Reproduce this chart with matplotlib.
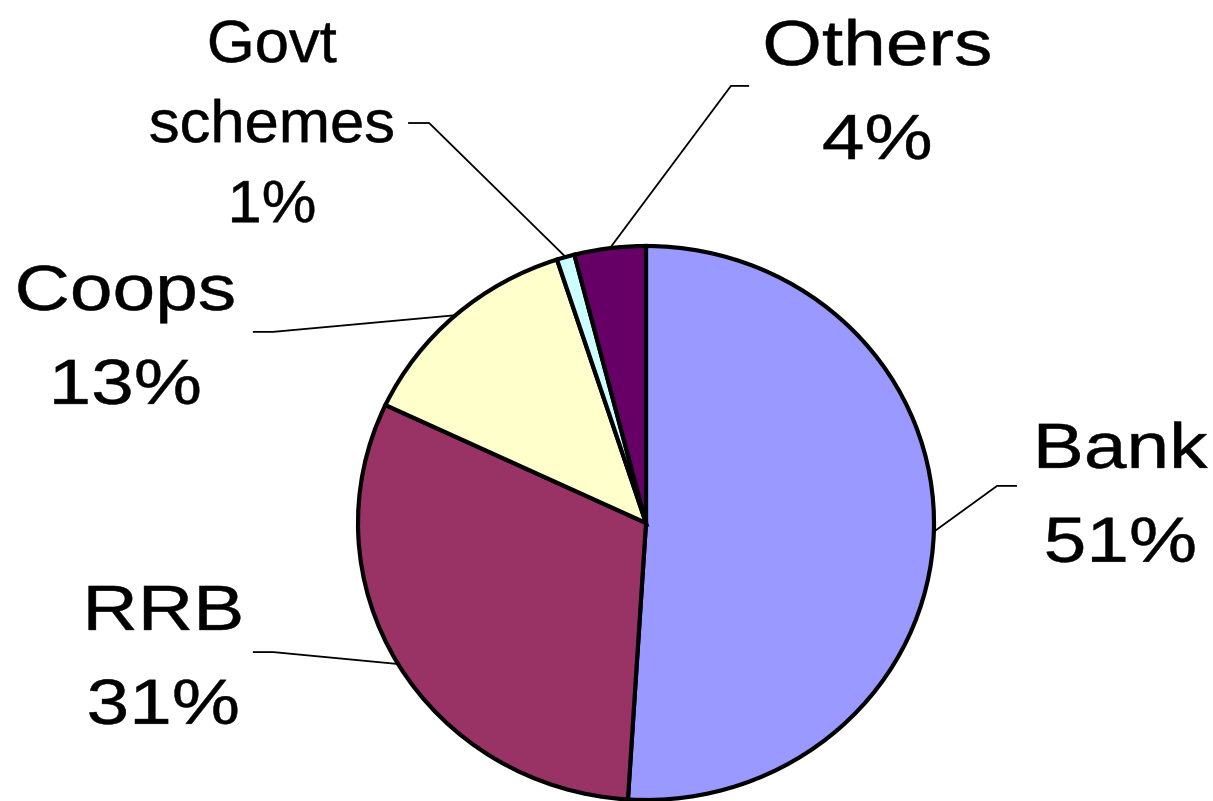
import matplotlib.pyplot as plt
from matplotlib.patheffects import AbstractPathEffect
from matplotlib.path import Path
import numpy as np

labels = ["Bank", "RRB", "Coops", "Govt\nschemes", "Others"]
shares = [51, 31, 13, 1, 4]
colors = ["#9999FF", "#993366", "#FFFFCC", "#CCFFFF", "#660066"]

# label layout in pie units: leader elbow, stub end, text centre x, first baseline
elbows = [(1.219, 0.134), (-1.295, -0.466), (-1.295, 0.690), (-0.753, 1.444), (0.295, 1.578)]
stubs = [(1.288, 0.134), (-1.365, -0.466), (-1.365, 0.690), (-0.826, 1.444), (0.358, 1.578)]
text_x = [1.646, -1.677, -1.809, -1.299, 0.802]
first_base = [0.199, -0.386, 0.769, 1.664, 1.653]


class HStretch(AbstractPathEffect):
    """widen glyphs about their own centre (the labels look horizontally stretched)"""
    def __init__(self, sx):
        super().__init__()
        self.sx = sx

    def draw_path(self, renderer, gc, tpath, affine, rgbFace=None):
        v = tpath.vertices.copy()
        if len(v):
            cx = (v[:, 0].min() + v[:, 0].max()) / 2
            v[:, 0] = cx + (v[:, 0] - cx) * self.sx
        gc.set_linewidth(0.35)
        gc.set_foreground(rgbFace)
        renderer.draw_path(gc, Path(v, tpath.codes), affine, rgbFace)


plt.rcParams['font.family'] = 'Liberation Sans'

fig = plt.figure(figsize=(12.13, 8.01), dpi=100)
ax = fig.add_axes([0, 0, 1, 1])

wedges, _ = ax.pie(shares, colors=colors, startangle=90, counterclock=False,
                   wedgeprops=dict(edgecolor='black', linewidth=3.0))

# pie is a bit wider than tall in the original
rx, ry = 288, 277
ax.set_aspect('auto')
ax.set_xlim(-646 / rx, (1213 - 646) / rx)
ax.set_ylim((523 - 801) / ry, 523 / ry)
ax.axis('off')

for w, lab, val, elb, stub, tx, yb in zip(wedges, labels, shares, elbows, stubs, text_x, first_base):
    mid = np.deg2rad((w.theta1 + w.theta2) / 2)
    x0, y0 = np.cos(mid), np.sin(mid)
    ax.plot([x0, elb[0], stub[0]], [y0, elb[1], stub[1]], color='black', lw=1.3,
            solid_capstyle='butt', zorder=3)

    small = '\n' in lab
    size = 43 if small else 46
    step = 0.289 if small else 0.339
    sx = 1.03 if small else 1.2
    lines = lab.split('\n') + [f"{val}%"]
    for i, s in enumerate(lines):
        t = ax.text(tx, yb - i * step, s, ha='center', va='baseline', fontsize=size, color='black')
        t.set_path_effects([HStretch(sx)])

plt.savefig("out.png", dpi=100)
